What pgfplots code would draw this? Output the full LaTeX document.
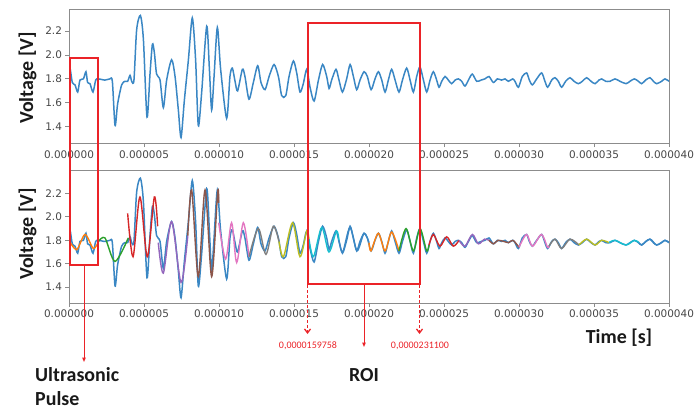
\documentclass[border=0pt]{standalone}
\usepackage{fontspec}
\setmainfont{Carlito}
\newfontfamily\tickfont{DejaVu Sans}
\usepackage{pgfplots}
\usepackage{pgfplotstable}
\pgfplotsset{compat=1.18}
\usetikzlibrary{arrows.meta}
\definecolor{C0}{HTML}{3A87C4}
\definecolor{C1}{HTML}{FF7F0E}
\definecolor{C2}{HTML}{2CA02C}
\definecolor{C3}{HTML}{D62728}
\definecolor{C4}{HTML}{9467BD}
\definecolor{C5}{HTML}{8C564B}
\definecolor{C6}{HTML}{E377C2}
\definecolor{C7}{HTML}{7F7F7F}
\definecolor{C8}{HTML}{BCBD22}
\definecolor{C9}{HTML}{17BECF}
\definecolor{roi}{RGB}{235,35,40}

\pgfplotstableread{
t v
0 1.85
0.07 1.89
0.22 1.77
0.40 1.75
0.58 1.69
0.73 1.79
0.96 1.80
1.13 1.86
1.24 1.77
1.40 1.76
1.60 1.69
1.78 1.79
1.96 1.80
2.40 1.79
2.73 1.80
2.89 1.78
3.07 1.41
3.24 1.59
3.51 1.75
3.73 1.78
3.91 1.78
4.07 1.83
4.18 1.78
4.33 1.79
4.51 2.21
4.76 2.33
4.96 2.13
5.20 1.48
5.40 1.84
5.56 2.09
5.69 2.02
5.84 1.84
6.07 1.79
6.29 1.56
6.51 1.79
6.84 1.96
7.07 1.82
7.29 1.54
7.47 1.31
7.69 1.62
7.96 1.96
8.22 2.31
8.44 1.96
8.62 1.41
8.84 1.68
9.18 2.24
9.36 1.88
9.51 1.54
9.67 1.82
9.89 2.23
10.11 1.88
10.51 1.47
10.73 1.82
10.89 1.89
11.07 1.78
11.24 1.70
11.56 1.88
11.73 1.82
12.00 1.63
12.29 1.77
12.58 1.91
12.80 1.77
13.07 1.71
13.34 1.82
13.67 1.92
13.96 1.82
14.18 1.66
14.45 1.66
14.67 1.82
14.96 1.95
15.18 1.85
15.40 1.69
15.62 1.76
15.85 1.88
16.07 1.73
16.34 1.615
16.63 1.79
16.91 1.92
17.18 1.82
17.34 1.72
17.51 1.79
17.80 1.88
18.00 1.79
18.23 1.69
18.51 1.80
18.74 1.92
18.96 1.82
19.18 1.71
19.40 1.79
19.67 1.86
19.89 1.82
20.14 1.71
20.40 1.80
20.63 1.86
20.85 1.79
21.07 1.69
21.29 1.79
21.51 1.88
21.74 1.79
22.00 1.69
22.23 1.79
22.51 1.89
22.74 1.79
22.96 1.69
23.18 1.82
23.40 1.90
23.63 1.79
23.85 1.69
24.07 1.79
24.29 1.86
24.51 1.79
24.67 1.73
24.85 1.78
25.07 1.82
25.29 1.79
25.51 1.76
25.74 1.79
25.96 1.80
26.18 1.78
26.40 1.74
26.67 1.80
26.89 1.84
27.18 1.78
27.47 1.79
27.73 1.80
28.00 1.82
28.29 1.77
28.56 1.80
28.84 1.79
29.07 1.80
29.29 1.78
29.58 1.80
29.73 1.78
29.96 1.73
30.22 1.82
30.51 1.85
30.69 1.79
30.89 1.75
31.18 1.80
31.51 1.85
31.73 1.78
31.91 1.73
32.18 1.79
32.40 1.81
32.62 1.78
32.84 1.73
33.11 1.78
33.40 1.81
33.67 1.78
33.96 1.76
34.22 1.78
34.51 1.81
34.80 1.78
35.07 1.76
35.33 1.79
35.51 1.80
35.78 1.78
36.07 1.78
36.40 1.80
36.73 1.78
37.13 1.76
37.40 1.78
37.69 1.80
37.96 1.78
38.18 1.76
38.44 1.79
38.73 1.81
38.96 1.78
39.18 1.76
39.51 1.78
39.73 1.80
40.00 1.78
}\sig

\pgfplotsset{myax/.style={
  scale only axis, width=600bp, anchor=north west,
  xmin=0, xmax=40,
  axis line style={black!45, line width=0.8bp},
  every tick/.style={black!45, line width=0.8bp},
  tick align=outside, major tick length=3.5bp,
  xtick pos=lower, ytick pos=left,
  xtick={0,5,10,15,20,25,30,35,40},
  xticklabels={0.000000,0.000005,0.000010,0.000015,0.000020,0.000025,0.000030,0.000035,0.000040},
  ytick={1.4,1.6,1.8,2.0,2.2},
  yticklabels={1.4,1.6,1.8,2.0,2.2},
  tick label style={font=\tickfont\fontsize{10.5}{12}\selectfont, text=black!72},
  sig/.style={C0, line width=1.5bp, smooth, tension=0.45},
  seg/.style={line width=1.4bp, smooth, tension=0.5},
}}

\begin{document}
\begin{tikzpicture}
\useasboundingbox (0,0) rectangle (694bp,-410bp);
\begin{axis}[myax, at={(69bp,-9.5bp)}, height=134bp, ymin=1.26, ymax=2.38]
\addplot[sig] table[x=t,y=v]{\sig};
\end{axis}
\begin{axis}[myax, at={(69bp,-170bp)}, height=133bp, ymin=1.265, ymax=2.40]
\addplot[sig] table[x=t,y=v]{\sig};
\addplot[seg, C1] coordinates {(0,1.80) (0.51,1.72) (1.07,1.85) (1.62,1.73) (1.97,1.79)};
\addplot[seg, C2] coordinates {(1.97,1.79) (2.4,1.82) (3.07,1.62) (3.95,1.82)};
\addplot[seg, C3] coordinates {(3.91,2.03) (4.27,1.66) (4.73,2.17) (5.22,1.66) (5.69,2.17) (5.91,1.92)};
\addplot[seg, C4] coordinates {(5.95,1.78) (6.29,1.52) (6.84,1.96) (7.47,1.44) (7.92,1.84)};
\addplot[seg, C5] coordinates {(7.92,1.84) (8.18,2.23) (8.62,1.49) (9.07,2.23) (9.51,1.49) (9.91,2.21) (9.98,2.12)};
\addplot[seg, C6] coordinates {(9.98,1.95) (10.44,1.64) (10.84,1.95) (11.18,1.61) (11.62,1.95) (12.0,1.66)};
\addplot[seg, C7] coordinates {(12.0,1.66) (12.62,1.90) (13.13,1.68) (13.62,1.92) (14.0,1.79)};
\addplot[seg, C8] coordinates {(14.0,1.79) (14.3,1.66) (14.9,1.95) (15.4,1.66) (15.85,1.88) (16.0,1.81)};
\addplot[seg, C9] coordinates {(16.0,1.81) (16.3,1.66) (16.85,1.91) (17.33,1.70) (17.83,1.88) (18.0,1.80)};
\addplot[seg, C0] coordinates {(18.0,1.80) (18.25,1.70) (18.73,1.91) (19.2,1.71) (19.67,1.86) (20.0,1.78)};
\addplot[seg, C1] coordinates {(20.0,1.78) (20.13,1.71) (20.62,1.86) (21.07,1.71) (21.51,1.87) (22.0,1.71)};
\addplot[seg, C2] coordinates {(22.0,1.71) (22.47,1.90) (22.96,1.71) (23.4,1.90) (23.84,1.71) (24.0,1.76)};
\addplot[seg, C3] coordinates {(24.0,1.76) (24.29,1.85) (24.73,1.75) (25.18,1.83) (25.62,1.75) (26.0,1.80)};
\addplot[seg, C4] coordinates {(26.0,1.80) (26.4,1.75) (26.89,1.85) (27.29,1.77) (27.7,1.81) (28.0,1.80)};
\addplot[seg, C5] coordinates {(28.0,1.80) (28.3,1.77) (28.6,1.80) (29.0,1.79) (29.3,1.78) (29.6,1.80) (30.0,1.74)};
\addplot[seg, C6] coordinates {(30.0,1.74) (30.5,1.85) (30.9,1.75) (31.5,1.85) (31.9,1.74) (32.0,1.75)};
\addplot[seg, C7] coordinates {(32.0,1.75) (32.4,1.81) (32.84,1.73) (33.4,1.81) (34.0,1.76)};
\addplot[seg, C8] coordinates {(34.0,1.76) (34.51,1.81) (35.07,1.76) (35.51,1.80) (36.0,1.78)};
\addplot[seg, C9] coordinates {(36.0,1.78) (36.4,1.80) (37.13,1.76) (37.69,1.80) (38.0,1.78)};
\addplot[seg, C0] coordinates {(38.0,1.78) (38.18,1.76) (38.73,1.81) (39.18,1.76) (39.73,1.80) (40.0,1.78)};
\end{axis}

% annotations
\draw[roi, line width=2bp] (69.5bp,-57.5bp) rectangle (97.5bp,-265bp);
\draw[roi, line width=2bp] (307.5bp,-23bp) rectangle (419.5bp,-284bp);
\draw[roi, line width=1bp, -{Triangle[length=4.5bp,width=3.5bp]}] (84bp,-265bp) -- (84bp,-362bp);
\draw[roi, line width=1bp, -{Triangle[length=4.5bp,width=3.5bp]}] (364bp,-284bp) -- (364bp,-347bp);
\draw[draw=roi, line width=1.3bp, dash pattern=on 3bp off 2bp, -{Straight Barb[length=4bp,width=6bp,color=roi]}] (307.5bp,-285bp) -- (307.5bp,-334bp);
\draw[draw=roi, line width=1.3bp, dash pattern=on 3bp off 2bp, -{Straight Barb[length=4bp,width=6bp,color=roi]}] (419.5bp,-285bp) -- (419.5bp,-334bp);

\node[rotate=90, font=\bfseries\fontsize{20}{24}\selectfont, text=black!90] at (27.5bp,-78bp) {Voltage [V]};
\node[rotate=90, font=\bfseries\fontsize{20}{24}\selectfont, text=black!90] at (27.5bp,-234bp) {Voltage [V]};
\node[font=\bfseries\fontsize{20}{24}\selectfont, text=black!90] at (619bp,-338bp) {Time [s]};
\node[anchor=west, inner sep=0pt, font=\bfseries\fontsize{20}{24}\selectfont, text=black!90] at (35bp,-375bp) {Ultrasonic};
\node[anchor=west, inner sep=0pt, font=\bfseries\fontsize{20}{24}\selectfont, text=black!90] at (35bp,-399bp) {Pulse};
\node[font=\bfseries\fontsize{20}{24}\selectfont, text=black!90] at (364bp,-375bp) {ROI};
\node[text=roi, font=\fontsize{10}{12}\selectfont] at (308bp,-346bp) {0,0000159758};
\node[text=roi, font=\fontsize{10}{12}\selectfont] at (420bp,-346bp) {0,0000231100};
\end{tikzpicture}
\end{document}
